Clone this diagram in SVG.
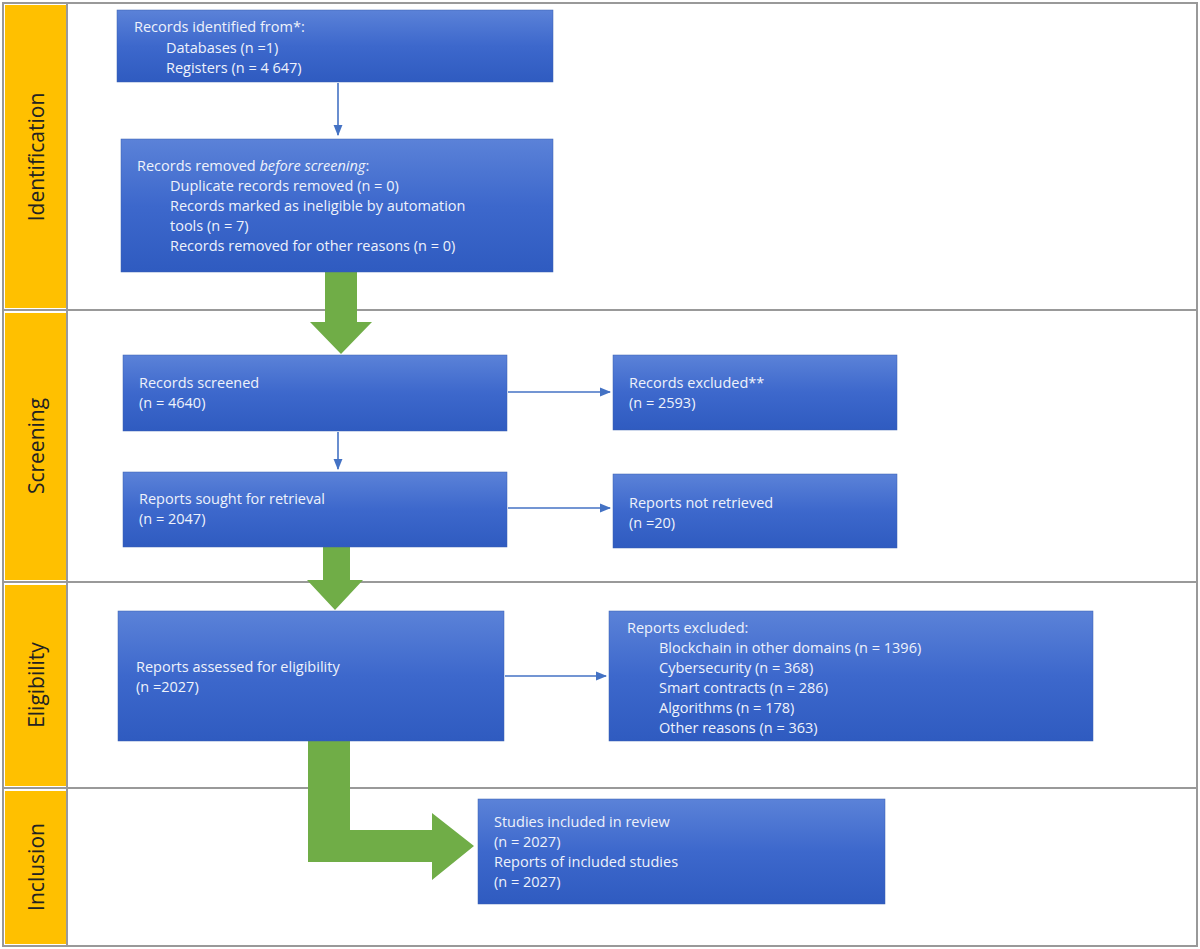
<svg xmlns="http://www.w3.org/2000/svg" width="1200" height="949" viewBox="0 0 1200 949">
<defs>
<linearGradient id="g" x1="0" y1="0" x2="0" y2="1"><stop offset="0" stop-color="#5b82d8"/><stop offset="0.5" stop-color="#3d68cc"/><stop offset="1" stop-color="#2f5bc0"/></linearGradient>
<marker id="ah" viewBox="0 0 10 10" refX="9" refY="5" markerWidth="7" markerHeight="7" orient="auto"><path d="M0,1 L10,5 L0,9 z" fill="#4472c4"/></marker>
</defs>
<style>
.box{fill:url(#g);stroke:#3a5fb0;stroke-width:0.5}
.t{font-family:"Open Sans","Liberation Sans",sans-serif;font-size:14.5px;fill:#eef2fb}
.lab{font-family:"Open Sans","Liberation Sans",sans-serif;font-size:21px;fill:#222}
.c{stroke:#4472c4;stroke-width:1.6;fill:none;marker-end:url(#ah)}
.gr{fill:#70ad47}
</style>
<rect x="0" y="0" width="1200" height="949" fill="#fff"/>
<g id="frame" stroke="#999" stroke-width="2" fill="none">
<rect x="3" y="3" width="1194" height="943"/>
<line x1="3" y1="310" x2="1197" y2="310"/>
<line x1="3" y1="582" x2="1197" y2="582"/>
<line x1="3" y1="788" x2="1197" y2="788"/>
<line x1="67" y1="3" x2="67" y2="946"/>
</g>
<g id="phases">
<rect x="5" y="5" width="61" height="303" fill="#ffc000"/>
<rect x="5" y="313" width="61" height="267" fill="#ffc000"/>
<rect x="5" y="585" width="61" height="201" fill="#ffc000"/>
<rect x="5" y="791" width="61" height="153" fill="#ffc000"/>
<text class="lab" transform="translate(44,157) rotate(-90)" text-anchor="middle">Identification</text>
<text class="lab" transform="translate(44,446) rotate(-90)" text-anchor="middle">Screening</text>
<text class="lab" transform="translate(44,685) rotate(-90)" text-anchor="middle">Eligibility</text>
<text class="lab" transform="translate(44,867) rotate(-90)" text-anchor="middle">Inclusion</text>
</g>
<g id="connectors">
<path class="c" d="M338,83 V135"/>
<path class="c" d="M338,432 V469"/>
<path class="c" d="M508,392 H610"/>
<path class="c" d="M508,508 H610"/>
<path class="c" d="M505,676 H606"/>
<path class="gr" d="M325,272 H357 V322 H372 L341,354 L310,322 H325 Z"/>
<path class="gr" d="M323,547 H350 V580 H363 L335,610 L307,580 H323 Z"/>
<path class="gr" d="M308,741 H350 V830 H432 V813 L474,846 L432,880 V862 H308 Z"/>
</g>
<g id="n1"><rect class="box" x="117" y="10" width="436" height="72"/>
<text class="t" x="134" y="32">Records identified from*:</text><text class="t" x="166" y="53">Databases (n =1)</text><text class="t" x="166" y="73">Registers (n = 4 647)</text></g>
<g id="n2"><rect class="box" x="121" y="139" width="432" height="133"/>
<text class="t" x="137" y="171">Records removed <tspan font-style="italic">before screening</tspan>:</text>
<text class="t" x="170" y="191">Duplicate records removed (n = 0)</text>
<text class="t" x="170" y="211">Records marked as ineligible by automation</text>
<text class="t" x="170" y="231">tools (n = 7)</text>
<text class="t" x="170" y="251">Records removed for other reasons (n = 0)</text></g>
<g id="n3"><rect class="box" x="123" y="355" width="384" height="76"/>
<text class="t" x="139" y="388">Records screened</text><text class="t" x="139" y="408">(n = 4640)</text></g>
<g id="n4"><rect class="box" x="613" y="355" width="284" height="75"/>
<text class="t" x="629" y="388">Records excluded**</text><text class="t" x="629" y="408">(n = 2593)</text></g>
<g id="n5"><rect class="box" x="123" y="472" width="384" height="75"/>
<text class="t" x="139" y="504">Reports sought for retrieval</text><text class="t" x="139" y="524">(n = 2047)</text></g>
<g id="n6"><rect class="box" x="613" y="474" width="284" height="74"/>
<text class="t" x="629" y="508">Reports not retrieved</text><text class="t" x="629" y="528">(n =20)</text></g>
<g id="n7"><rect class="box" x="118" y="611" width="386" height="130"/>
<text class="t" x="136" y="672">Reports assessed for eligibility</text><text class="t" x="136" y="692">(n =2027)</text></g>
<g id="n8"><rect class="box" x="609" y="611" width="484" height="130"/>
<text class="t" x="627" y="633">Reports excluded:</text>
<text class="t" x="659" y="653">Blockchain in other domains (n = 1396)</text>
<text class="t" x="659" y="673">Cybersecurity (n = 368)</text>
<text class="t" x="659" y="693">Smart contracts (n = 286)</text>
<text class="t" x="659" y="713">Algorithms (n = 178)</text>
<text class="t" x="659" y="733">Other reasons (n = 363)</text></g>
<g id="n9"><rect class="box" x="478" y="799" width="407" height="105"/>
<text class="t" x="494" y="827">Studies included in review</text><text class="t" x="494" y="847">(n = 2027)</text>
<text class="t" x="494" y="867">Reports of included studies</text><text class="t" x="494" y="887">(n = 2027)</text></g>
</svg>
